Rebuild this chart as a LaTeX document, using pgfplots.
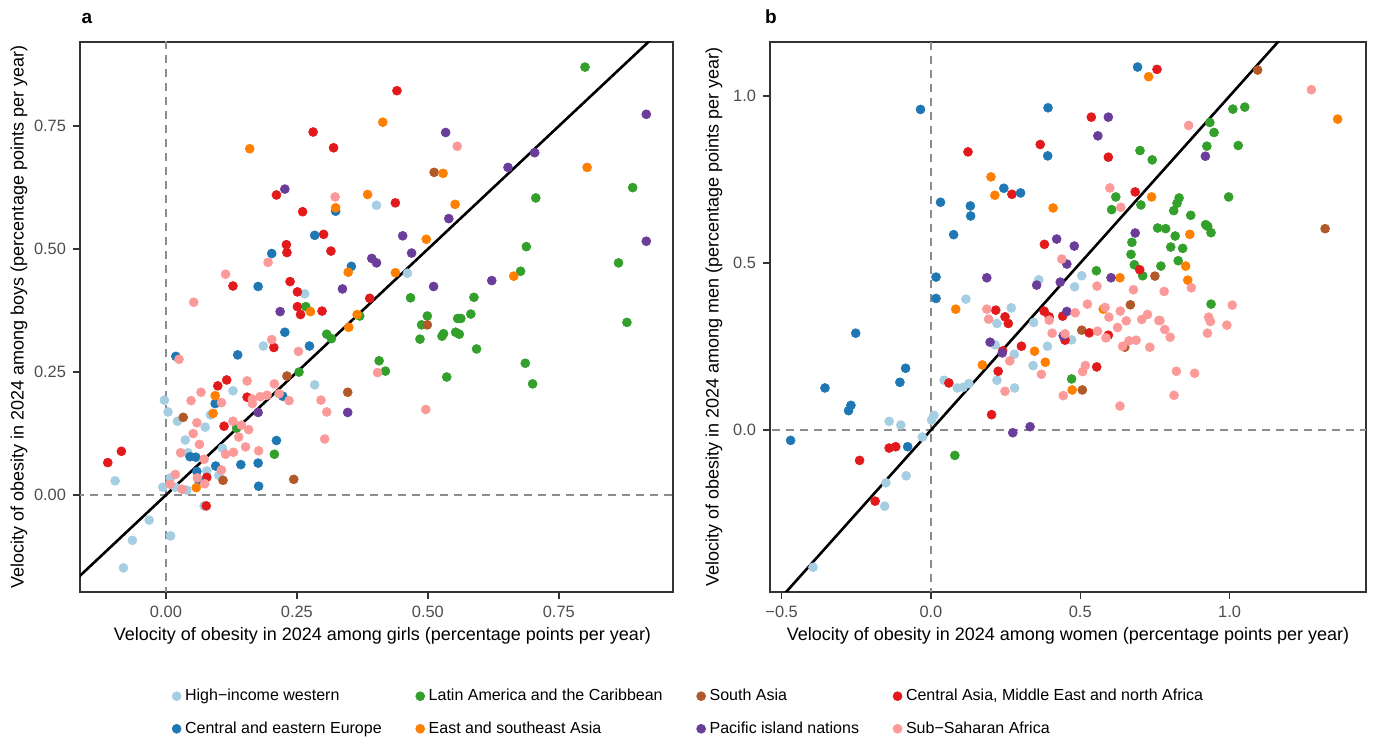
\documentclass[border=0pt]{standalone}
\usepackage{pgfplots}
\pgfplotsset{compat=1.18}
\usepackage{fontspec}
\setmainfont{Liberation Sans}

\definecolor{hiw}{HTML}{A6CEE3}
\definecolor{cee}{HTML}{1F78B4}
\definecolor{lac}{HTML}{33A02C}
\definecolor{sa}{HTML}{B15928}
\definecolor{came}{HTML}{E31A1C}
\definecolor{esa}{HTML}{FF7F00}
\definecolor{pin}{HTML}{6A3D9A}
\definecolor{ssa}{HTML}{FB9A99}
\definecolor{tickgray}{HTML}{4D4D4D}

\pgfplotsset{
  panel/.style={
    scale only axis,
    height=275pt,
    enlargelimits=false,
    axis line style={black!80, line width=0.9pt},
    tick align=outside,
    xtick pos=bottom, ytick pos=left,
    major tick length=3.5pt,
    tick style={black!80, line width=0.7pt},
    ticklabel style={font=\fontsize{8.2}{9}\selectfont, text=tickgray},
    label style={font=\fontsize{9}{10.5}\selectfont},
  },
  pts/.style={only marks, mark=*, mark size=2.25pt, line width=0.3pt, color=#1},
  zero/.style={forget plot, dash pattern=on 4pt off 3pt, line width=0.6pt, color=black!45},
  idline/.style={forget plot, black, line width=1.3pt},
}

\begin{document}
\begin{tikzpicture}
\path[use as bounding box] (0,0) rectangle (687.5pt,369.5pt);

% ---- panel a: girls vs boys
\begin{axis}[panel, name=A,
  at={(40pt,73.5pt)}, anchor=south west,
  width=296.5pt,
  xmin=-0.164, xmax=0.968, ymin=-0.197, ymax=0.921,
  xtick={0,0.25,0.5,0.75}, xticklabels={0.00,0.25,0.50,0.75},
  ytick={0,0.25,0.5,0.75}, yticklabels={0.00,0.25,0.50,0.75},
  xlabel={Velocity of obesity in 2024 among girls (percentage points per year)},
  ylabel={Velocity of obesity in 2024 among boys (percentage points per year)},
  xlabel style={at={(axis description cs:0.51,-0.08)}, anchor=center},
  ylabel style={at={(axis description cs:-0.1029,0.5)}, anchor=center},
  legend columns=4,
  legend cell align=left,
  legend image code/.code={\draw[#1] plot coordinates {(0pt,0pt)};},
  legend style={at={(axis description cs:1.028,-0.2191)}, anchor=center,
    draw=none, fill=none, font=\fontsize{8}{9.6}\selectfont,
    /tikz/every even column/.append style={column sep=15pt}, row sep=5pt},
]
\addplot[zero] coordinates {(0,-1) (0,2)};
\addplot[zero] coordinates {(-1,0) (2,0)};
\addplot[idline] coordinates {(-1,-1) (2,2)};

\addplot[pts=hiw] coordinates {(0.402,0.589)(0.265,0.409)(0.461,0.451)(0.186,0.303)(0.284,0.224)(0.128,0.212)(-0.003,0.193)(0.004,0.169)(0.085,0.163)(0.022,0.150)(0.075,0.138)(0.037,0.112)(0.108,0.095)(0.042,0.086)(0.101,0.040)(0.078,0.049)(-0.097,0.029)(0.009,0.035)(-0.006,0.016)(0.018,0.016)(0.040,0.010)(-0.032,-0.051)(-0.064,-0.092)(0.009,-0.083)(-0.081,-0.148)(0.073,-0.022)};
\addlegendentry{High−income western}
\addplot[pts=lac] coordinates {(0.800,0.870)(0.891,0.625)(0.706,0.604)(0.688,0.505)(0.864,0.472)(0.677,0.455)(0.467,0.401)(0.588,0.402)(0.267,0.383)(0.307,0.327)(0.316,0.318)(0.407,0.273)(0.254,0.250)(0.135,0.136)(0.207,0.083)(0.499,0.364)(0.488,0.346)(0.557,0.359)(0.563,0.359)(0.582,0.368)(0.485,0.317)(0.530,0.328)(0.527,0.323)(0.553,0.331)(0.560,0.327)(0.593,0.297)(0.880,0.351)(0.419,0.252)(0.536,0.240)(0.686,0.268)(0.700,0.226)(0.370,0.364)};
\addlegendentry{Latin America and the Caribbean}
\addplot[pts=sa] coordinates {(0.512,0.656)(0.499,0.346)(0.231,0.242)(0.347,0.209)(0.033,0.158)(0.109,0.030)(0.244,0.032)};
\addlegendentry{South Asia}
\addplot[pts=came] coordinates {(0.441,0.822)(0.281,0.738)(0.320,0.706)(0.211,0.610)(0.261,0.576)(0.301,0.530)(0.438,0.594)(0.230,0.509)(0.231,0.493)(0.315,0.496)(0.128,0.425)(0.237,0.434)(0.251,0.413)(0.389,0.400)(0.251,0.383)(0.257,0.367)(0.298,0.374)(0.206,0.300)(0.116,0.234)(0.099,0.222)(0.155,0.199)(0.111,0.140)(-0.085,0.089)(-0.111,0.066)(0.078,0.036)(0.077,-0.022)};
\addlegendentry{Central Asia, Middle East and north Africa}
\addplot[pts=cee] coordinates {(0.324,0.577)(0.284,0.528)(0.202,0.491)(0.354,0.465)(0.176,0.424)(0.227,0.331)(0.274,0.303)(0.019,0.282)(0.137,0.285)(0.094,0.186)(0.223,0.201)(0.211,0.111)(0.046,0.078)(0.057,0.077)(0.095,0.059)(0.143,0.062)(0.176,0.065)(0.059,0.048)(0.063,0.029)(0.177,0.018)};
\addlegendentry{Central and eastern Europe}
\addplot[pts=esa] coordinates {(0.160,0.704)(0.414,0.758)(0.324,0.584)(0.385,0.611)(0.529,0.654)(0.804,0.666)(0.552,0.591)(0.348,0.453)(0.497,0.520)(0.438,0.452)(0.664,0.445)(0.276,0.373)(0.365,0.367)(0.349,0.341)(0.094,0.202)(0.090,0.166)(0.058,0.015)};
\addlegendentry{East and southeast Asia}
\addplot[pts=pin] coordinates {(0.917,0.774)(0.534,0.737)(0.704,0.696)(0.653,0.666)(0.227,0.622)(0.540,0.562)(0.393,0.481)(0.402,0.472)(0.469,0.492)(0.452,0.527)(0.917,0.516)(0.337,0.419)(0.511,0.424)(0.622,0.436)(0.218,0.373)(0.176,0.168)(0.347,0.168)};
\addlegendentry{Pacific island nations}
\addplot[pts=ssa] coordinates {(0.556,0.709)(0.323,0.606)(0.195,0.473)(0.114,0.449)(0.053,0.392)(0.202,0.316)(0.253,0.292)(0.025,0.276)(0.404,0.249)(0.296,0.193)(0.307,0.169)(0.303,0.114)(0.496,0.174)(0.155,0.232)(0.207,0.226)(0.067,0.209)(0.048,0.192)(0.106,0.188)(0.165,0.195)(0.165,0.186)(0.180,0.200)(0.193,0.203)(0.216,0.206)(0.235,0.192)(0.059,0.147)(0.128,0.150)(0.144,0.142)(0.158,0.133)(0.139,0.118)(0.052,0.125)(0.064,0.103)(0.114,0.083)(0.129,0.087)(0.152,0.098)(0.177,0.090)(0.028,0.086)(0.073,0.073)(0.106,0.051)(0.018,0.042)(0.060,0.035)(0.074,0.023)(0.008,0.022)(0.031,0.012)};
\addlegendentry{Sub−Saharan Africa}
\end{axis}

% ---- panel b: women vs men
\begin{axis}[panel, name=B,
  at={(385pt,73.5pt)}, anchor=south west,
  width=298pt,
  xmin=-0.539, xmax=1.457, ymin=-0.485, ymax=1.162,
  xtick={-0.5,0,0.5,1}, xticklabels={−0.5,0.0,0.5,1.0},
  ytick={0,0.5,1}, yticklabels={0.0,0.5,1.0},
  xlabel={Velocity of obesity in 2024 among women (percentage points per year)},
  ylabel={Velocity of obesity in 2024 among men (percentage points per year)},
  xlabel style={at={(axis description cs:0.5,-0.08)}, anchor=center},
  ylabel style={at={(axis description cs:-0.094,0.5)}, anchor=center},
]
\addplot[zero] coordinates {(0,-1) (0,2)};
\addplot[zero] coordinates {(-1,0) (2,0)};
\addplot[idline] coordinates {(-1,-1) (2,2)};

\addplot[pts=hiw] coordinates {(0.361,0.450)(0.117,0.392)(0.269,0.366)(0.221,0.319)(0.344,0.322)(0.215,0.255)(0.279,0.227)(0.390,0.251)(0.342,0.193)(0.221,0.149)(0.044,0.149)(0.088,0.126)(0.108,0.128)(0.127,0.139)(0.280,0.126)(-0.140,0.026)(-0.101,0.015)(0.010,0.044)(0.002,0.030)(-0.029,-0.021)(-0.083,-0.137)(-0.151,-0.158)(-0.155,-0.228)(-0.395,-0.411)(0.505,0.462)(0.481,0.429)(0.471,0.270)};
\addplot[pts=lac] coordinates {(1.011,0.961)(1.051,0.967)(0.934,0.921)(0.948,0.891)(0.924,0.850)(1.029,0.852)(0.700,0.837)(0.741,0.809)(0.619,0.698)(0.605,0.660)(0.703,0.674)(0.997,0.698)(0.831,0.695)(0.824,0.679)(0.813,0.657)(0.870,0.643)(0.920,0.615)(0.927,0.610)(0.938,0.591)(0.759,0.605)(0.786,0.603)(0.818,0.581)(0.673,0.562)(0.670,0.526)(0.803,0.548)(0.843,0.544)(0.828,0.507)(0.681,0.495)(0.770,0.491)(0.709,0.462)(0.554,0.477)(0.938,0.377)(0.471,0.153)(0.080,-0.076)};
\addplot[pts=sa] coordinates {(1.094,1.078)(1.320,0.603)(0.750,0.461)(0.668,0.375)(0.505,0.299)(0.649,0.248)(0.507,0.120)};
\addplot[pts=came] coordinates {(0.757,1.080)(0.366,0.855)(0.124,0.833)(0.537,0.937)(0.594,0.817)(0.271,0.706)(0.684,0.713)(0.380,0.556)(0.699,0.480)(0.217,0.359)(0.248,0.339)(0.259,0.319)(0.379,0.356)(0.396,0.339)(0.441,0.341)(0.240,0.237)(0.303,0.251)(0.225,0.176)(0.060,0.141)(0.203,0.046)(-0.140,-0.054)(-0.118,-0.050)(-0.239,-0.091)(-0.187,-0.213)(0.530,0.291)(0.594,0.284)(0.555,0.189)(0.449,0.269)};
\addplot[pts=cee] coordinates {(-0.035,0.960)(0.392,0.965)(0.391,0.821)(0.244,0.724)(0.300,0.710)(0.032,0.682)(0.132,0.671)(0.133,0.641)(0.076,0.585)(0.017,0.458)(0.017,0.394)(0.692,1.087)(-0.252,0.290)(-0.085,0.185)(-0.104,0.143)(-0.355,0.126)(-0.268,0.074)(-0.276,0.058)(-0.470,-0.031)(-0.078,-0.050)};
\addplot[pts=esa] coordinates {(0.729,1.058)(1.362,0.931)(0.201,0.758)(0.214,0.703)(0.409,0.665)(0.739,0.698)(0.867,0.586)(0.853,0.491)(0.860,0.449)(0.633,0.456)(0.083,0.362)(0.347,0.236)(0.172,0.195)(0.383,0.203)(0.577,0.362)(0.473,0.120)};
\addplot[pts=pin] coordinates {(0.594,0.937)(0.559,0.881)(0.919,0.820)(0.421,0.572)(0.455,0.497)(0.480,0.551)(0.684,0.590)(0.187,0.456)(0.354,0.434)(0.433,0.443)(0.603,0.456)(0.455,0.355)(0.198,0.263)(0.332,0.010)(0.274,-0.008)(0.443,0.282)(0.239,0.231)};
\addplot[pts=ssa] coordinates {(1.274,1.019)(0.863,0.912)(0.438,0.512)(0.599,0.725)(0.636,0.667)(0.872,0.426)(0.556,0.431)(0.678,0.420)(0.781,0.415)(1.009,0.374)(0.524,0.377)(0.483,0.351)(0.596,0.338)(0.634,0.356)(0.654,0.327)(0.706,0.331)(0.725,0.346)(0.763,0.328)(0.767,0.328)(0.783,0.301)(0.801,0.278)(0.930,0.338)(0.936,0.325)(0.991,0.314)(0.926,0.290)(0.625,0.307)(0.558,0.296)(0.586,0.276)(0.449,0.288)(0.663,0.267)(0.687,0.269)(0.642,0.251)(0.733,0.248)(0.517,0.193)(0.508,0.175)(0.822,0.176)(0.883,0.170)(0.443,0.103)(0.814,0.104)(0.633,0.072)(0.187,0.362)(0.193,0.332)(0.396,0.329)(0.406,0.290)(0.264,0.207)(0.370,0.167)(0.248,0.116)(0.583,0.367)};
\end{axis}

\node[font=\bfseries\fontsize{9.5}{10}\selectfont, anchor=center] at ([xshift=3.5pt, yshift=12pt]A.north west) {a};
\node[font=\bfseries\fontsize{9.5}{10}\selectfont, anchor=center] at ([xshift=0.5pt, yshift=12.5pt]B.north west) {b};
\end{tikzpicture}
\end{document}
